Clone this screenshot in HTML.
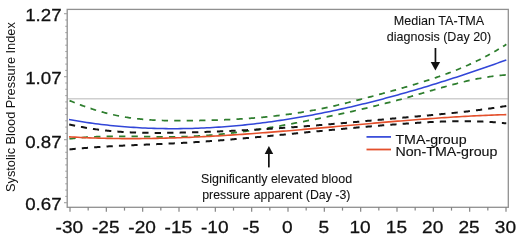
<!DOCTYPE html>
<html><head><meta charset="utf-8"><style>
html,body{margin:0;padding:0;background:#fff;width:520px;height:240px;overflow:hidden}
svg{display:block;will-change:transform}
text{font-family:"Liberation Sans",sans-serif;fill:#111;stroke:#111;stroke-width:0}
.tl text{stroke-width:0.28}
.an text{stroke-width:0.08}
.lg text{stroke-width:0.12}
.tk{stroke:#858585;stroke-width:1.2}
.ty{stroke:#a0a0a0;stroke-width:1.1}
</style></head><body>
<svg width="520" height="240" viewBox="0 0 520 240">
<rect x="0" y="0" width="520" height="240" fill="#fff"/>
<line x1="67.5" y1="98.8" x2="508.5" y2="98.8" stroke="#cfcfcf" stroke-width="1.6"/>
<path d="M69.00 100.36L71.93 101.57L74.87 102.75L77.80 103.90L80.74 105.01L83.67 106.09L86.61 107.13L89.54 108.13L92.48 109.09L95.41 110.02L98.35 110.90L101.28 111.75L104.22 112.55L107.15 113.31L110.09 114.03L113.02 114.71L115.96 115.35L118.89 115.94L121.83 116.50L124.76 117.01L127.70 117.48L130.63 117.92L133.57 118.31L136.50 118.67L139.44 118.99L142.37 119.28L145.31 119.53L148.24 119.76L151.18 119.96L154.11 120.13L157.05 120.27L159.98 120.39L162.92 120.49L165.85 120.57L168.79 120.63L171.72 120.67L174.66 120.69L177.59 120.71L180.53 120.70L183.46 120.69L186.40 120.67L189.33 120.64L192.27 120.61L195.20 120.56L198.14 120.52L201.07 120.46L204.01 120.40L206.94 120.33L209.88 120.26L212.81 120.17L215.74 120.08L218.68 119.98L221.61 119.87L224.55 119.75L227.48 119.62L230.42 119.49L233.35 119.34L236.29 119.18L239.22 119.01L242.16 118.83L245.09 118.64L248.03 118.44L250.96 118.22L253.90 117.99L256.83 117.75L259.77 117.50L262.70 117.24L265.64 116.96L268.57 116.66L271.51 116.36L274.44 116.04L277.38 115.70L280.31 115.35L283.25 114.98L286.18 114.60L289.12 114.20L292.05 113.78L294.99 113.35L297.92 112.90L300.86 112.44L303.79 111.95L306.73 111.45L309.66 110.93L312.60 110.39L315.53 109.84L318.47 109.26L321.40 108.67L324.34 108.05L327.27 107.42L330.21 106.78L333.14 106.12L336.08 105.45L339.01 104.76L341.95 104.06L344.88 103.34L347.82 102.62L350.75 101.89L353.69 101.15L356.62 100.40L359.56 99.64L362.49 98.88L365.42 98.11L368.36 97.33L371.29 96.55L374.23 95.77L377.16 94.98L380.10 94.19L383.03 93.40L385.97 92.59L388.90 91.79L391.84 90.97L394.77 90.15L397.71 89.33L400.64 88.49L403.58 87.65L406.51 86.80L409.45 85.93L412.38 85.06L415.32 84.18L418.25 83.29L421.19 82.39L424.12 81.47L427.06 80.54L429.99 79.59L432.93 78.62L435.86 77.63L438.80 76.62L441.73 75.59L444.67 74.54L447.60 73.46L450.54 72.35L453.47 71.21L456.41 70.05L459.34 68.85L462.28 67.62L465.21 66.35L468.15 65.05L471.08 63.72L474.02 62.34L476.95 60.92L479.89 59.47L482.82 57.97L485.76 56.43L488.69 54.84L491.63 53.21L494.56 51.54L497.50 49.81L500.43 48.04L503.37 46.22L506.30 44.35L506.30 74.93L503.37 75.13L500.43 75.39L497.50 75.68L494.56 76.02L491.63 76.41L488.69 76.83L485.76 77.29L482.82 77.79L479.89 78.32L476.95 78.89L474.02 79.49L471.08 80.12L468.15 80.77L465.21 81.45L462.28 82.16L459.34 82.88L456.41 83.63L453.47 84.40L450.54 85.18L447.60 85.98L444.67 86.79L441.73 87.61L438.80 88.45L435.86 89.29L432.93 90.13L429.99 90.98L427.06 91.84L424.12 92.69L421.19 93.54L418.25 94.39L415.32 95.24L412.38 96.08L409.45 96.91L406.51 97.73L403.58 98.54L400.64 99.34L397.71 100.13L394.77 100.92L391.84 101.69L388.90 102.46L385.97 103.22L383.03 103.96L380.10 104.71L377.16 105.44L374.23 106.16L371.29 106.88L368.36 107.59L365.42 108.29L362.49 108.98L359.56 109.67L356.62 110.35L353.69 111.02L350.75 111.68L347.82 112.34L344.88 112.99L341.95 113.64L339.01 114.27L336.08 114.90L333.14 115.53L330.21 116.15L327.27 116.76L324.34 117.37L321.40 117.97L318.47 118.57L315.53 119.16L312.60 119.74L309.66 120.32L306.73 120.90L303.79 121.47L300.86 122.03L297.92 122.59L294.99 123.14L292.05 123.69L289.12 124.23L286.18 124.77L283.25 125.29L280.31 125.81L277.38 126.33L274.44 126.83L271.51 127.32L268.57 127.81L265.64 128.29L262.70 128.76L259.77 129.22L256.83 129.66L253.90 130.10L250.96 130.53L248.03 130.94L245.09 131.35L242.16 131.74L239.22 132.12L236.29 132.49L233.35 132.85L230.42 133.19L227.48 133.52L224.55 133.83L221.61 134.13L218.68 134.42L215.74 134.69L212.81 134.95L209.88 135.19L206.94 135.42L204.01 135.63L201.07 135.82L198.14 136.00L195.20 136.16L192.27 136.30L189.33 136.43L186.40 136.53L183.46 136.62L180.53 136.69L177.59 136.75L174.66 136.78L171.72 136.81L168.79 136.82L165.85 136.82L162.92 136.80L159.98 136.78L157.05 136.75L154.11 136.72L151.18 136.68L148.24 136.64L145.31 136.59L142.37 136.54L139.44 136.50L136.50 136.45L133.57 136.41L130.63 136.37L127.70 136.34L124.76 136.32L121.83 136.30L118.89 136.29L115.96 136.30L113.02 136.31L110.09 136.34L107.15 136.39L104.22 136.45L101.28 136.53L98.35 136.63L95.41 136.75L92.48 136.89L89.54 137.05L86.61 137.24L83.67 137.45L80.74 137.69L77.80 137.96L74.87 138.26L71.93 138.59L69.00 138.95Z" fill="#fff"/>
<g fill="none" stroke-linecap="butt">
<path d="M69.55 100.59L69.58 100.60L70.75 101.09L71.92 101.56L73.08 102.04L74.25 102.51L74.73 102.70M79.88 104.69L79.94 104.71L81.10 105.15L82.27 105.58L83.44 106.00L84.60 106.42L85.24 106.65M90.56 108.47L90.58 108.47L91.75 108.86L92.91 109.23L94.08 109.60L95.25 109.97L96.11 110.23M101.63 111.84L101.66 111.85L102.83 112.18L104.00 112.49L105.16 112.80L106.33 113.10L107.37 113.37M113.08 114.73L113.18 114.75L114.35 115.01L115.52 115.26L116.68 115.50L117.85 115.74L119.01 115.97L119.02 115.97M124.91 117.04L124.99 117.05L126.16 117.24L127.33 117.43L128.49 117.60L129.66 117.78L130.83 117.94L131.00 117.97M137.03 118.73L137.10 118.74L138.26 118.86L139.43 118.99L140.60 119.11L141.76 119.22L142.93 119.33L143.24 119.36M149.35 119.84L149.49 119.85L150.66 119.92L151.82 120.00L152.99 120.07L154.16 120.13L155.32 120.19L155.62 120.21M161.77 120.46L161.88 120.46L163.05 120.50L164.22 120.53L165.38 120.56L166.55 120.59L167.72 120.61L168.06 120.62M174.22 120.69L174.28 120.69L175.45 120.70L176.61 120.70L177.78 120.71L178.94 120.71L180.11 120.71L180.52 120.70M186.69 120.67L186.82 120.67L187.99 120.66L189.15 120.64L190.32 120.63L191.48 120.62L192.65 120.60L192.99 120.60M199.15 120.50L199.21 120.50L200.38 120.48L201.55 120.45L202.71 120.43L203.88 120.40L205.05 120.38L205.44 120.37M211.60 120.21L211.61 120.21L212.77 120.17L213.94 120.14L215.11 120.10L216.27 120.06L217.44 120.02L217.89 120.01M224.04 119.77L224.15 119.77L225.31 119.72L226.48 119.67L227.65 119.62L228.81 119.56L229.98 119.51L230.32 119.49M236.46 119.17L236.54 119.17L237.71 119.10L238.87 119.03L240.04 118.96L241.21 118.89L242.37 118.82L242.73 118.79M248.86 118.38L248.94 118.37L250.10 118.29L251.27 118.20L252.44 118.11L253.60 118.02L254.77 117.92L255.10 117.90M261.20 117.37L261.33 117.36L262.50 117.26L263.66 117.15L264.83 117.04L266.00 116.92L267.16 116.81L267.42 116.78M273.49 116.14L273.58 116.13L274.75 116.00L275.91 115.87L277.08 115.73L278.24 115.60L279.41 115.46L279.67 115.43M285.69 114.66L285.83 114.64L286.99 114.49L288.16 114.33L289.33 114.17L290.49 114.01L291.66 113.84L291.83 113.82M297.80 112.92L297.93 112.90L299.10 112.72L300.26 112.53L301.43 112.34L302.60 112.15L303.76 111.96L303.88 111.94M309.79 110.91L309.89 110.89L311.05 110.68L312.22 110.46L313.39 110.25L314.55 110.03L315.72 109.80L315.79 109.79M321.63 108.62L321.70 108.61L322.86 108.36L324.03 108.12L325.20 107.87L326.36 107.62L327.53 107.37L327.55 107.36M333.32 106.08L333.36 106.07L334.53 105.80L335.70 105.53L336.86 105.26L338.03 104.99L339.18 104.72M344.88 103.34L344.88 103.34L346.05 103.06L347.22 102.77L348.38 102.48L349.55 102.19L350.69 101.91M356.35 100.47L356.40 100.45L357.57 100.15L358.73 99.85L359.90 99.55L361.07 99.25L362.11 98.97M367.74 97.49L367.78 97.48L368.94 97.18L370.11 96.87L371.28 96.56L372.44 96.25L373.48 95.97M379.09 94.46L379.15 94.45L380.32 94.13L381.48 93.82L382.65 93.50L383.82 93.18L384.81 92.91M390.39 91.38L390.52 91.34L391.69 91.02L392.86 90.69L394.02 90.37L395.19 90.04L396.08 89.79M401.63 88.21L401.75 88.17L402.92 87.84L404.08 87.50L405.25 87.16L406.42 86.82L407.28 86.57M412.79 84.94L412.83 84.93L414.00 84.58L415.17 84.23L416.33 83.88L417.50 83.52L418.39 83.25M423.85 81.56L423.91 81.53L425.08 81.17L426.25 80.79L427.41 80.42L428.58 80.05L429.38 79.79M434.75 78.01L434.85 77.97L436.02 77.58L437.18 77.18L438.35 76.78L439.52 76.37L440.19 76.14M445.45 74.25L445.50 74.23L446.66 73.80L447.83 73.37L448.99 72.93L450.16 72.49L450.77 72.26M455.90 70.25L455.99 70.21L457.16 69.74L458.33 69.27L459.49 68.79L460.66 68.30L461.07 68.13M466.04 65.99L466.05 65.98L467.22 65.47L468.39 64.94L469.55 64.42L470.72 63.88L471.04 63.73M475.84 61.46L475.97 61.40L477.14 60.83L478.30 60.26L479.47 59.68L480.64 59.09L480.66 59.07M485.29 56.68L485.30 56.67L486.47 56.05L487.64 55.42L488.80 54.78L489.92 54.17M494.36 51.65L494.49 51.58L495.66 50.90L496.82 50.21L497.99 49.52L498.81 49.03M503.07 46.41L503.09 46.39L504.26 45.65L505.43 44.91L506.30 44.35" stroke="#2e7e2e" stroke-width="1.75"/>
<path d="M69.47 138.89L69.58 138.87L70.75 138.73L71.92 138.59L73.08 138.45L74.25 138.32L75.42 138.20L75.65 138.18M81.74 137.60L81.83 137.60L83.00 137.50L84.16 137.41L85.33 137.33L86.50 137.24L87.66 137.17L88.00 137.15M94.14 136.80L94.23 136.80L95.39 136.75L96.56 136.70L97.73 136.65L98.89 136.61L100.06 136.57L100.43 136.56M106.59 136.40L106.62 136.40L107.79 136.38L108.95 136.36L110.12 136.34L111.29 136.33L112.45 136.32L112.89 136.31M119.06 136.29L119.16 136.29L120.33 136.29L121.49 136.30L122.66 136.30L123.83 136.31L124.99 136.32L125.36 136.32M131.53 136.38L131.55 136.38L132.72 136.40L133.89 136.41L135.05 136.43L136.22 136.45L137.39 136.47L137.83 136.47M144.00 136.57L144.09 136.57L145.26 136.59L146.43 136.61L147.59 136.63L148.76 136.64L149.93 136.66L150.29 136.67M156.46 136.75L156.49 136.75L157.66 136.76L158.82 136.77L159.99 136.78L161.16 136.79L162.32 136.80L162.76 136.80M168.93 136.82L169.03 136.82L170.20 136.81L171.36 136.81L172.53 136.80L173.70 136.79L174.86 136.78L175.23 136.78M181.40 136.67L181.42 136.67L182.59 136.64L183.76 136.61L184.92 136.58L186.09 136.54L187.26 136.50L187.69 136.49M193.85 136.23L193.96 136.22L195.13 136.16L196.30 136.10L197.46 136.04L198.63 135.97L199.80 135.90L200.12 135.88M206.25 135.47L206.36 135.46L207.52 135.37L208.69 135.28L209.86 135.19L211.02 135.10L212.19 135.00L212.50 134.98M218.60 134.43L218.61 134.43L219.77 134.32L220.94 134.20L222.11 134.08L223.27 133.96L224.44 133.84L224.81 133.81M230.87 133.14L231.00 133.12L232.17 132.99L233.33 132.85L234.50 132.71L235.67 132.57L236.83 132.42L237.04 132.40M243.07 131.62L243.10 131.62L244.27 131.46L245.44 131.30L246.60 131.14L247.77 130.98L248.94 130.82L249.21 130.78M255.20 129.91L255.21 129.91L256.37 129.73L257.54 129.56L258.71 129.38L259.87 129.20L261.04 129.02L261.30 128.98M267.25 128.03L267.31 128.02L268.48 127.83L269.64 127.64L270.81 127.44L271.97 127.25L273.14 127.05L273.32 127.02M279.24 126.00L279.27 126.00L280.43 125.79L281.60 125.59L282.77 125.38L283.93 125.17L285.10 124.96L285.27 124.93M291.16 123.86L291.22 123.85L292.39 123.63L293.56 123.41L294.72 123.19L295.89 122.98L297.06 122.76L297.17 122.73M303.04 121.61L303.18 121.59L304.35 121.36L305.51 121.13L306.68 120.91L307.85 120.68L309.01 120.45L309.02 120.45M314.87 119.29L314.99 119.27L316.16 119.03L317.32 118.80L318.49 118.56L319.66 118.33L320.82 118.09L320.83 118.09M326.65 116.89L326.66 116.89L327.82 116.65L328.99 116.40L330.16 116.16L331.32 115.91L332.49 115.67L332.59 115.65M338.39 114.41L338.47 114.39L339.63 114.14L340.80 113.89L341.97 113.63L343.13 113.38L344.29 113.12M350.07 111.84L350.13 111.82L351.30 111.56L352.46 111.30L353.63 111.03L354.80 110.76L355.94 110.50M361.69 109.17L361.80 109.14L362.96 108.87L364.13 108.60L365.30 108.32L366.46 108.04L367.53 107.79M373.24 106.41L373.32 106.39L374.48 106.10L375.65 105.81L376.82 105.52L377.98 105.23L379.04 104.97M384.71 103.54L384.84 103.51L386.00 103.21L387.17 102.91L388.34 102.60L389.50 102.30L390.48 102.05M396.11 100.56L396.21 100.53L397.38 100.22L398.54 99.91L399.71 99.59L400.88 99.28L401.84 99.01M407.42 97.47L407.44 97.47L408.60 97.14L409.77 96.82L410.94 96.49L412.10 96.16L413.11 95.87M418.65 94.28L418.67 94.27L419.83 93.94L421.00 93.60L422.16 93.26L423.33 92.92L424.30 92.64M429.83 91.03L429.89 91.01L431.06 90.67L432.23 90.34L433.39 90.00L434.56 89.66L435.49 89.39M441.04 87.81L441.12 87.79L442.29 87.46L443.45 87.13L444.62 86.80L445.79 86.48L446.73 86.22M452.33 84.70L452.35 84.70L453.51 84.39L454.68 84.08L455.85 83.78L457.01 83.48L458.09 83.20M463.78 81.79L463.87 81.77L465.03 81.49L466.20 81.22L467.37 80.95L468.53 80.68L469.64 80.43M475.44 79.19L475.53 79.18L476.70 78.94L477.87 78.71L479.03 78.49L480.20 78.27L481.37 78.05L481.43 78.04M487.36 77.04L487.49 77.02L488.66 76.84L489.82 76.66L490.99 76.50L492.16 76.33L493.32 76.18L493.48 76.16M499.54 75.47L499.59 75.47L500.76 75.36L501.93 75.25L503.09 75.16L504.26 75.07L505.43 74.99L505.78 74.96" stroke="#2e7e2e" stroke-width="1.75"/>
<path d="M69.20 124.40L69.29 124.42L70.46 124.69L71.62 124.96L72.79 125.22L73.96 125.47L75.10 125.71M80.93 126.88L80.96 126.88L82.12 127.10L83.29 127.31L84.46 127.52L85.62 127.73L86.79 127.92L86.96 127.95M92.91 128.89L92.91 128.89L94.08 129.06L95.25 129.22L96.41 129.38L97.58 129.54L98.75 129.69L99.05 129.73M105.09 130.44L105.16 130.45L106.33 130.58L107.50 130.70L108.66 130.82L109.83 130.93L110.99 131.04L111.30 131.07M117.40 131.58L117.41 131.58L118.58 131.66L119.74 131.75L120.91 131.83L122.08 131.90L123.24 131.98L123.65 132.00M129.79 132.33L129.80 132.33L130.97 132.38L132.14 132.43L133.30 132.48L134.47 132.52L135.64 132.57L136.08 132.58M142.23 132.75L142.35 132.76L143.51 132.78L144.68 132.80L145.84 132.82L147.01 132.84L148.18 132.86L148.53 132.86M154.69 132.91L154.74 132.91L155.91 132.91L157.07 132.91L158.24 132.91L159.41 132.90L160.57 132.90L160.99 132.90M167.15 132.84L167.28 132.84L168.45 132.83L169.61 132.81L170.78 132.80L171.95 132.78L173.11 132.76L173.45 132.75M179.60 132.63L179.67 132.63L180.84 132.61L182.01 132.58L183.17 132.55L184.34 132.52L185.51 132.50L185.90 132.49M192.05 132.33L192.07 132.33L193.23 132.29L194.40 132.26L195.57 132.23L196.73 132.19L197.90 132.16L198.35 132.14M204.50 131.95L204.61 131.94L205.77 131.90L206.94 131.86L208.11 131.82L209.27 131.78L210.44 131.74L210.79 131.73M216.93 131.49L217.00 131.49L218.17 131.44L219.34 131.40L220.50 131.35L221.67 131.30L222.84 131.25L223.22 131.24M229.36 130.97L229.40 130.97L230.56 130.91L231.73 130.86L232.90 130.81L234.06 130.75L235.23 130.70L235.64 130.68M241.78 130.37L241.79 130.37L242.96 130.31L244.12 130.25L245.29 130.19L246.46 130.13L247.62 130.07L248.06 130.05M254.19 129.71L254.33 129.70L255.50 129.64L256.66 129.57L257.83 129.50L259.00 129.43L260.16 129.37L260.46 129.35M266.59 128.98L266.73 128.97L267.89 128.90L269.06 128.82L270.23 128.75L271.39 128.68L272.56 128.60L272.86 128.58M278.98 128.18L279.12 128.17L280.29 128.09L281.45 128.01L282.62 127.93L283.79 127.85L284.95 127.77L285.24 127.75M291.35 127.32L291.37 127.31L292.53 127.23L293.70 127.14L294.87 127.06L296.03 126.97L297.20 126.88L297.60 126.85M303.71 126.39L303.76 126.38L304.93 126.29L306.10 126.20L307.26 126.11L308.43 126.02L309.60 125.93L309.96 125.90M316.06 125.40L316.16 125.40L317.32 125.30L318.49 125.20L319.66 125.11L320.82 125.01L321.99 124.91L322.30 124.89M328.40 124.37L328.41 124.37L329.57 124.27L330.74 124.17L331.90 124.07L333.07 123.97L334.24 123.87L334.63 123.83M340.73 123.30L340.80 123.29L341.97 123.19L343.13 123.09L344.30 122.99L345.47 122.88L346.63 122.78L346.96 122.75M353.05 122.20L353.05 122.20L354.21 122.10L355.38 121.99L356.55 121.89L357.71 121.78L358.88 121.68L359.27 121.64M365.36 121.09L365.44 121.08L366.61 120.97L367.78 120.86L368.94 120.76L370.11 120.65L371.28 120.54L371.59 120.52M377.67 119.96L377.69 119.96L378.86 119.85L380.02 119.74L381.19 119.64L382.36 119.53L383.52 119.42L383.90 119.39M389.99 118.83L390.09 118.82L391.25 118.71L392.42 118.61L393.58 118.50L394.75 118.40L395.92 118.29L396.21 118.26M402.30 117.71L402.33 117.71L403.50 117.60L404.67 117.50L405.83 117.39L407.00 117.29L408.17 117.18L408.53 117.15M414.62 116.61L414.73 116.60L415.89 116.49L417.06 116.39L418.23 116.28L419.39 116.18L420.56 116.07L420.85 116.05M426.94 115.50L426.98 115.49L428.14 115.39L429.31 115.28L430.48 115.17L431.64 115.06L432.81 114.96L433.16 114.92M439.25 114.35L439.37 114.34L440.54 114.23L441.70 114.11L442.87 114.00L444.04 113.88L445.20 113.77L445.46 113.74M451.53 113.13L451.62 113.12L452.79 113.00L453.95 112.88L455.12 112.76L456.29 112.63L457.45 112.51L457.73 112.48M463.79 111.81L463.87 111.80L465.03 111.67L466.20 111.54L467.37 111.40L468.53 111.27L469.70 111.13L469.97 111.10M476.00 110.36L476.12 110.35L477.28 110.20L478.45 110.05L479.62 109.90L480.78 109.75L481.95 109.59L482.16 109.57M488.16 108.75L488.22 108.74L489.39 108.57L490.55 108.41L491.72 108.24L492.88 108.07L494.05 107.90L494.28 107.86M500.24 106.95L500.32 106.93L501.49 106.75L502.65 106.56L503.82 106.37L504.99 106.18L506.15 105.98L506.30 105.96" stroke="#141414" stroke-width="2"/>
<path d="M69.51 149.41L69.58 149.40L70.75 149.28L71.92 149.17L73.08 149.05L74.25 148.94L75.42 148.83L75.73 148.80M81.81 148.26L81.83 148.26L83.00 148.16L84.16 148.07L85.33 147.97L86.50 147.88L87.66 147.79L88.05 147.76M94.15 147.31L94.23 147.31L95.39 147.22L96.56 147.14L97.73 147.07L98.89 146.99L100.06 146.91L100.41 146.89M106.53 146.52L106.62 146.51L107.79 146.44L108.95 146.37L110.12 146.31L111.29 146.24L112.45 146.18L112.80 146.16M118.92 145.84L119.01 145.84L120.18 145.78L121.35 145.72L122.51 145.66L123.68 145.61L124.85 145.55L125.20 145.54M131.33 145.25L131.41 145.25L132.58 145.20L133.74 145.14L134.91 145.09L136.08 145.04L137.24 144.99L137.61 144.97M143.75 144.71L143.80 144.71L144.97 144.66L146.14 144.61L147.30 144.56L148.47 144.51L149.64 144.46L150.03 144.44M156.16 144.18L156.20 144.18L157.36 144.12L158.53 144.07L159.70 144.02L160.86 143.97L162.03 143.92L162.44 143.90M168.57 143.61L168.59 143.61L169.76 143.56L170.92 143.50L172.09 143.45L173.26 143.39L174.42 143.33L174.85 143.31M180.98 142.99L180.99 142.99L182.15 142.92L183.32 142.86L184.49 142.79L185.65 142.72L186.82 142.66L187.25 142.63M193.36 142.26L193.38 142.26L194.55 142.18L195.71 142.11L196.88 142.03L198.05 141.95L199.21 141.88L199.62 141.85M205.73 141.42L205.77 141.42L206.94 141.34L208.11 141.25L209.27 141.17L210.44 141.08L211.61 141.00L211.98 140.97M218.08 140.50L218.17 140.50L219.34 140.40L220.50 140.31L221.67 140.22L222.84 140.13L224.00 140.03L224.32 140.00M230.41 139.50L230.42 139.50L231.58 139.40L232.75 139.30L233.92 139.21L235.08 139.11L236.25 139.01L236.65 138.97M242.73 138.44L242.81 138.43L243.98 138.33L245.14 138.22L246.31 138.12L247.48 138.01L248.64 137.91L248.96 137.88M255.03 137.32L255.06 137.32L256.23 137.21L257.39 137.10L258.56 136.99L259.73 136.88L260.89 136.77L261.26 136.74M267.33 136.16L267.45 136.15L268.62 136.04L269.79 135.93L270.95 135.82L272.12 135.70L273.29 135.59L273.54 135.57M279.61 134.98L279.70 134.97L280.87 134.86L282.04 134.74L283.20 134.63L284.37 134.52L285.54 134.40L285.83 134.37M291.89 133.78L291.95 133.77L293.12 133.66L294.28 133.54L295.45 133.43L296.62 133.32L297.78 133.20L298.11 133.17M304.17 132.57L304.20 132.57L305.37 132.46L306.53 132.34L307.70 132.23L308.87 132.12L310.03 132.00L310.39 131.97M316.45 131.38L316.59 131.36L317.76 131.25L318.93 131.14L320.09 131.02L321.26 130.91L322.43 130.80L322.67 130.77M328.74 130.19L328.84 130.18L330.01 130.07L331.18 129.96L332.34 129.85L333.51 129.74L334.68 129.63L334.96 129.60M341.03 129.03L341.09 129.02L342.26 128.91L343.42 128.80L344.59 128.70L345.76 128.59L346.92 128.48L347.25 128.45M353.33 127.89L353.34 127.89L354.51 127.79L355.67 127.68L356.84 127.58L358.01 127.47L359.17 127.37L359.56 127.33M365.64 126.80L365.73 126.79L366.90 126.69L368.07 126.59L369.23 126.49L370.40 126.39L371.57 126.29L371.87 126.26M377.96 125.75L377.98 125.75L379.15 125.65L380.32 125.56L381.48 125.46L382.65 125.37L383.82 125.27L384.20 125.24M390.29 124.76L390.38 124.75L391.54 124.66L392.71 124.57L393.88 124.48L395.04 124.39L396.21 124.31L396.54 124.28M402.64 123.83L402.77 123.82L403.94 123.74L405.10 123.66L406.27 123.57L407.44 123.49L408.60 123.41L408.90 123.39M415.00 122.98L415.02 122.98L416.19 122.90L417.35 122.83L418.52 122.76L419.69 122.68L420.85 122.61L421.27 122.59M427.39 122.24L427.41 122.24L428.58 122.17L429.75 122.11L430.91 122.06L432.08 122.00L433.25 121.94L433.67 121.92M439.80 121.66L439.81 121.66L440.97 121.61L442.14 121.57L443.31 121.53L444.47 121.49L445.64 121.46L446.09 121.44M452.23 121.29L452.35 121.29L453.51 121.27L454.68 121.25L455.85 121.23L457.01 121.21L458.18 121.20L458.53 121.20M464.68 121.18L464.74 121.18L465.91 121.19L467.08 121.20L468.24 121.21L469.41 121.22L470.58 121.24L470.98 121.24M477.12 121.39L477.14 121.39L478.30 121.43L479.47 121.47L480.64 121.51L481.80 121.56L482.97 121.61L483.41 121.63M489.53 121.96L489.68 121.97L490.84 122.04L492.01 122.12L493.18 122.20L494.34 122.28L495.51 122.37L495.79 122.40M501.87 122.93L501.93 122.93L503.09 123.05L504.26 123.17L505.43 123.29L506.30 123.38" stroke="#141414" stroke-width="2"/>
<path d="M69.00 136.83L71.93 137.00L74.87 137.17L77.80 137.32L80.74 137.46L83.67 137.60L86.61 137.72L89.54 137.84L92.48 137.95L95.41 138.05L98.35 138.14L101.28 138.22L104.22 138.30L107.15 138.36L110.09 138.42L113.02 138.47L115.96 138.52L118.89 138.55L121.83 138.58L124.76 138.60L127.70 138.61L130.63 138.62L133.57 138.62L136.50 138.61L139.44 138.59L142.37 138.57L145.31 138.54L148.24 138.50L151.18 138.46L154.11 138.41L157.05 138.35L159.98 138.29L162.92 138.22L165.85 138.14L168.79 138.06L171.72 137.97L174.66 137.88L177.59 137.78L180.53 137.68L183.46 137.57L186.40 137.45L189.33 137.33L192.27 137.20L195.20 137.07L198.14 136.93L201.07 136.79L204.01 136.64L206.94 136.49L209.88 136.34L212.81 136.17L215.74 136.01L218.68 135.84L221.61 135.66L224.55 135.48L227.48 135.30L230.42 135.11L233.35 134.92L236.29 134.73L239.22 134.53L242.16 134.33L245.09 134.12L248.03 133.91L250.96 133.70L253.90 133.48L256.83 133.26L259.77 133.04L262.70 132.82L265.64 132.59L268.57 132.36L271.51 132.13L274.44 131.89L277.38 131.65L280.31 131.41L283.25 131.17L286.18 130.93L289.12 130.68L292.05 130.43L294.99 130.18L297.92 129.93L300.86 129.68L303.79 129.42L306.73 129.17L309.66 128.91L312.60 128.65L315.53 128.40L318.47 128.14L321.40 127.88L324.34 127.61L327.27 127.35L330.21 127.09L333.14 126.83L336.08 126.57L339.01 126.30L341.95 126.04L344.88 125.78L347.82 125.51L350.75 125.25L353.69 124.99L356.62 124.73L359.56 124.47L362.49 124.21L365.42 123.95L368.36 123.69L371.29 123.43L374.23 123.17L377.16 122.92L380.10 122.67L383.03 122.41L385.97 122.16L388.90 121.91L391.84 121.66L394.77 121.42L397.71 121.17L400.64 120.93L403.58 120.69L406.51 120.45L409.45 120.22L412.38 119.99L415.32 119.76L418.25 119.53L421.19 119.30L424.12 119.08L427.06 118.86L429.99 118.65L432.93 118.43L435.86 118.23L438.80 118.02L441.73 117.82L444.67 117.62L447.60 117.43L450.54 117.24L453.47 117.05L456.41 116.87L459.34 116.70L462.28 116.53L465.21 116.36L468.15 116.20L471.08 116.04L474.02 115.89L476.95 115.75L479.89 115.61L482.82 115.47L485.76 115.34L488.69 115.22L491.63 115.11L494.56 115.00L497.50 114.89L500.43 114.80L503.37 114.71L506.30 114.62" stroke="#e4502c" stroke-width="1.6"/>
<path d="M69.00 119.59L71.93 120.10L74.87 120.60L77.80 121.09L80.74 121.56L83.67 122.01L86.61 122.45L89.54 122.87L92.48 123.28L95.41 123.67L98.35 124.05L101.28 124.41L104.22 124.75L107.15 125.08L110.09 125.40L113.02 125.70L115.96 125.99L118.89 126.26L121.83 126.51L124.76 126.75L127.70 126.98L130.63 127.19L133.57 127.39L136.50 127.57L139.44 127.74L142.37 127.90L145.31 128.04L148.24 128.16L151.18 128.27L154.11 128.37L157.05 128.46L159.98 128.53L162.92 128.58L165.85 128.63L168.79 128.66L171.72 128.67L174.66 128.67L177.59 128.66L180.53 128.64L183.46 128.60L186.40 128.55L189.33 128.49L192.27 128.41L195.20 128.32L198.14 128.22L201.07 128.10L204.01 127.97L206.94 127.83L209.88 127.68L212.81 127.51L215.74 127.33L218.68 127.14L221.61 126.94L224.55 126.72L227.48 126.49L230.42 126.25L233.35 126.00L236.29 125.74L239.22 125.46L242.16 125.17L245.09 124.87L248.03 124.56L250.96 124.24L253.90 123.90L256.83 123.56L259.77 123.20L262.70 122.83L265.64 122.45L268.57 122.06L271.51 121.66L274.44 121.25L277.38 120.82L280.31 120.39L283.25 119.94L286.18 119.49L289.12 119.02L292.05 118.54L294.99 118.06L297.92 117.56L300.86 117.05L303.79 116.53L306.73 116.00L309.66 115.46L312.60 114.91L315.53 114.35L318.47 113.78L321.40 113.20L324.34 112.61L327.27 112.01L330.21 111.41L333.14 110.79L336.08 110.16L339.01 109.52L341.95 108.88L344.88 108.22L347.82 107.56L350.75 106.88L353.69 106.20L356.62 105.51L359.56 104.81L362.49 104.10L365.42 103.38L368.36 102.65L371.29 101.91L374.23 101.17L377.16 100.42L380.10 99.66L383.03 98.89L385.97 98.11L388.90 97.32L391.84 96.53L394.77 95.73L397.71 94.91L400.64 94.10L403.58 93.27L406.51 92.44L409.45 91.59L412.38 90.75L415.32 89.89L418.25 89.02L421.19 88.15L424.12 87.27L427.06 86.39L429.99 85.49L432.93 84.59L435.86 83.69L438.80 82.77L441.73 81.85L444.67 80.92L447.60 79.99L450.54 79.05L453.47 78.10L456.41 77.14L459.34 76.18L462.28 75.21L465.21 74.24L468.15 73.26L471.08 72.27L474.02 71.28L476.95 70.28L479.89 69.28L482.82 68.27L485.76 67.25L488.69 66.23L491.63 65.20L494.56 64.17L497.50 63.13L500.43 62.09L503.37 61.04L506.30 59.98" stroke="#3246d8" stroke-width="1.55"/>
</g>
<rect x="67.2" y="9.4" width="441.1" height="197.9" fill="none" stroke="#909090" stroke-width="1.3"/>
<line x1="64.0" y1="13.70" x2="67.2" y2="13.70" class="ty"/>
<line x1="65.3" y1="20.00" x2="67.2" y2="20.00" class="ty"/>
<line x1="65.3" y1="26.30" x2="67.2" y2="26.30" class="ty"/>
<line x1="65.3" y1="32.60" x2="67.2" y2="32.60" class="ty"/>
<line x1="65.3" y1="38.90" x2="67.2" y2="38.90" class="ty"/>
<line x1="65.3" y1="45.20" x2="67.2" y2="45.20" class="ty"/>
<line x1="65.3" y1="51.50" x2="67.2" y2="51.50" class="ty"/>
<line x1="65.3" y1="57.80" x2="67.2" y2="57.80" class="ty"/>
<line x1="65.3" y1="64.10" x2="67.2" y2="64.10" class="ty"/>
<line x1="65.3" y1="70.40" x2="67.2" y2="70.40" class="ty"/>
<line x1="64.0" y1="76.70" x2="67.2" y2="76.70" class="ty"/>
<line x1="65.3" y1="83.00" x2="67.2" y2="83.00" class="ty"/>
<line x1="65.3" y1="89.30" x2="67.2" y2="89.30" class="ty"/>
<line x1="65.3" y1="95.60" x2="67.2" y2="95.60" class="ty"/>
<line x1="65.3" y1="101.90" x2="67.2" y2="101.90" class="ty"/>
<line x1="65.3" y1="108.20" x2="67.2" y2="108.20" class="ty"/>
<line x1="65.3" y1="114.50" x2="67.2" y2="114.50" class="ty"/>
<line x1="65.3" y1="120.80" x2="67.2" y2="120.80" class="ty"/>
<line x1="65.3" y1="127.10" x2="67.2" y2="127.10" class="ty"/>
<line x1="65.3" y1="133.40" x2="67.2" y2="133.40" class="ty"/>
<line x1="64.0" y1="139.70" x2="67.2" y2="139.70" class="ty"/>
<line x1="65.3" y1="146.00" x2="67.2" y2="146.00" class="ty"/>
<line x1="65.3" y1="152.30" x2="67.2" y2="152.30" class="ty"/>
<line x1="65.3" y1="158.60" x2="67.2" y2="158.60" class="ty"/>
<line x1="65.3" y1="164.90" x2="67.2" y2="164.90" class="ty"/>
<line x1="65.3" y1="171.20" x2="67.2" y2="171.20" class="ty"/>
<line x1="65.3" y1="177.50" x2="67.2" y2="177.50" class="ty"/>
<line x1="65.3" y1="183.80" x2="67.2" y2="183.80" class="ty"/>
<line x1="65.3" y1="190.10" x2="67.2" y2="190.10" class="ty"/>
<line x1="65.3" y1="196.40" x2="67.2" y2="196.40" class="ty"/>
<line x1="64.0" y1="202.70" x2="67.2" y2="202.70" class="ty"/>
<line x1="70.00" y1="207" x2="70.00" y2="211.8" class="tk"/>
<line x1="88.17" y1="207" x2="88.17" y2="210.6" class="tk"/>
<line x1="106.33" y1="207" x2="106.33" y2="211.8" class="tk"/>
<line x1="124.50" y1="207" x2="124.50" y2="210.6" class="tk"/>
<line x1="142.67" y1="207" x2="142.67" y2="211.8" class="tk"/>
<line x1="160.83" y1="207" x2="160.83" y2="210.6" class="tk"/>
<line x1="179.00" y1="207" x2="179.00" y2="211.8" class="tk"/>
<line x1="197.17" y1="207" x2="197.17" y2="210.6" class="tk"/>
<line x1="215.33" y1="207" x2="215.33" y2="211.8" class="tk"/>
<line x1="233.50" y1="207" x2="233.50" y2="210.6" class="tk"/>
<line x1="251.67" y1="207" x2="251.67" y2="211.8" class="tk"/>
<line x1="269.83" y1="207" x2="269.83" y2="210.6" class="tk"/>
<line x1="288.00" y1="207" x2="288.00" y2="211.8" class="tk"/>
<line x1="306.17" y1="207" x2="306.17" y2="210.6" class="tk"/>
<line x1="324.33" y1="207" x2="324.33" y2="211.8" class="tk"/>
<line x1="342.50" y1="207" x2="342.50" y2="210.6" class="tk"/>
<line x1="360.67" y1="207" x2="360.67" y2="211.8" class="tk"/>
<line x1="378.83" y1="207" x2="378.83" y2="210.6" class="tk"/>
<line x1="397.00" y1="207" x2="397.00" y2="211.8" class="tk"/>
<line x1="415.17" y1="207" x2="415.17" y2="210.6" class="tk"/>
<line x1="433.33" y1="207" x2="433.33" y2="211.8" class="tk"/>
<line x1="451.50" y1="207" x2="451.50" y2="210.6" class="tk"/>
<line x1="469.67" y1="207" x2="469.67" y2="211.8" class="tk"/>
<line x1="487.83" y1="207" x2="487.83" y2="210.6" class="tk"/>
<line x1="506.00" y1="207" x2="506.00" y2="211.8" class="tk"/>
<g class="tl" font-size="17" text-anchor="end">
<text transform="translate(61.6,21.1) scale(1.1,1)">1.27</text>
<text transform="translate(61.6,84.3) scale(1.1,1)">1.07</text>
<text transform="translate(61.6,147.5) scale(1.1,1)">0.87</text>
<text transform="translate(61.6,210.3) scale(1.1,1)">0.67</text>
</g>
<g class="tl" font-size="17.2" text-anchor="middle">
<text transform="translate(69.40,232.7) scale(1.11,1)">-30</text>
<text transform="translate(105.73,232.7) scale(1.11,1)">-25</text>
<text transform="translate(142.07,232.7) scale(1.11,1)">-20</text>
<text transform="translate(178.40,232.7) scale(1.11,1)">-15</text>
<text transform="translate(214.73,232.7) scale(1.11,1)">-10</text>
<text transform="translate(251.07,232.7) scale(1.11,1)">-5</text>
<text transform="translate(287.40,232.7) scale(1.11,1)">0</text>
<text transform="translate(323.73,232.7) scale(1.11,1)">5</text>
<text transform="translate(360.07,232.7) scale(1.11,1)">10</text>
<text transform="translate(396.40,232.7) scale(1.11,1)">15</text>
<text transform="translate(432.73,232.7) scale(1.11,1)">20</text>
<text transform="translate(469.07,232.7) scale(1.11,1)">25</text>
<text transform="translate(505.40,232.7) scale(1.11,1)">30</text>
</g>
<text font-size="12.8" text-anchor="middle" transform="translate(14.6,107.1) rotate(-90) scale(1,1.04)">Systolic Blood Pressure Index</text>
<g class="an" font-size="12" text-anchor="middle">
<text transform="translate(439,24.7) scale(1.05,1)">Median TA-TMA</text>
<text transform="translate(439,41.2) scale(1.045,1)">diagnosis (Day 20)</text>
<text transform="translate(276.5,182.6) scale(1.04,1)">Significantly elevated blood</text>
<text transform="translate(276.3,198.5) scale(1.03,1)">pressure apparent (Day -3)</text>
</g>
<line x1="366.5" y1="136.9" x2="391" y2="136.9" stroke="#3246d8" stroke-width="1.7"/>
<line x1="366.5" y1="149.5" x2="391" y2="149.5" stroke="#e4502c" stroke-width="1.8"/>
<g class="lg" font-size="12.6">
<text transform="translate(395.4,143.5) scale(1.13,1)">TMA-group</text>
<text transform="translate(395.4,156.4) scale(1.13,1)">Non-TMA-group</text>
</g>
<g fill="#111">
<rect x="434.6" y="48" width="1.7" height="15"/>
<polygon points="430.7,62 440.1,62 435.4,70.6"/>
<rect x="268" y="153" width="1.7" height="14.4"/>
<polygon points="264.7,154 273.2,154 268.9,146"/>
</g>
</svg>
</body></html>
